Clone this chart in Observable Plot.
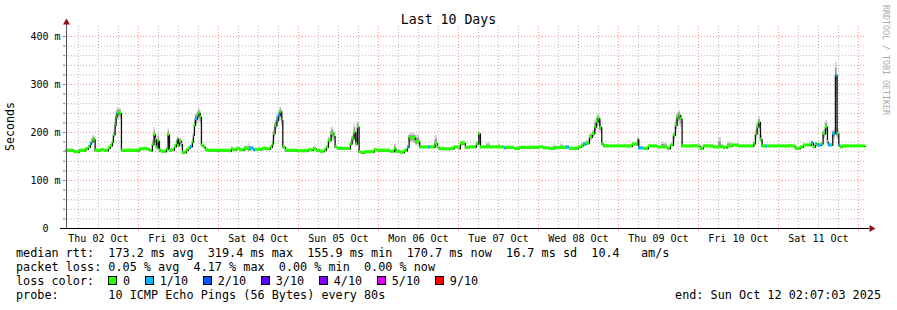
<!DOCTYPE html>
<html><head><meta charset="utf-8">
<script src="https://cdn.jsdelivr.net/npm/d3@7"></script>
<script src="https://cdn.jsdelivr.net/npm/@observablehq/plot@0.6"></script>
<style>
body{margin:0;background:#fff;}
#wrap{position:relative;width:897px;height:310px;font-family:"DejaVu Sans Mono",monospace;color:#000;overflow:hidden;background:#fff;}
#wrap svg{position:absolute;left:0;top:0;}
.t{position:absolute;white-space:pre;line-height:1;}
.sq{display:inline-block;width:7px;height:7px;border:1px solid #000;margin-right:6px;}
.item{margin-right:14.6px;}
</style></head><body><div id="wrap"></div>
<script>
// ---- data (hours since 2025-10-02 00:00 UTC, median rtt ms, smoke range ms, loss in tenths)
const hours = [2.1,4.8,6.3,8.1,9.0,9.6,9.9,10.4,11.0,12.6,13.8,15.0,15.6,16.2,16.5,17.0,17.3,17.6,18.0,18.5,18.9,
24.3,25.5,26.7,27.6,28.2,28.7,29.1,29.4,29.9,30.3,30.9,32.4,32.9,33.3,33.9,34.8,35.4,35.7,36.0,36.3,36.9,37.2,37.8,38.4,39.0,39.6,40.2,40.5,40.8,41.1,41.7,42.0,42.5,42.9,43.5,44.1,45.0,
51.0,51.9,52.5,53.4,54.6,55.8,57.0,57.6,58.5,59.1,61.2,62.4,63.6,64.2,64.5,65.0,65.5,66.0,66.5,67.0,67.3,68.1,
72.0,75.0,76.5,77.4,78.6,79.8,80.4,81.0,81.8,82.5,83.0,83.7,87.6,88.1,88.7,89.2,89.7,90.2,90.9,91.8,94.8,95.7,
99.6,100.8,101.3,102.6,103.8,104.7,105.2,105.6,107.1,108.4,111.0,111.6,113.0,113.7,114.3,117.6,118.8,120.3,120.6,122.1,123.3,125.4,126.1,126.6,128.4,129.0,129.6,131.7,132.6,133.8,134.4,136.8,138.3,
144.0,145.5,147.3,148.5,149.1,150.6,151.5,152.4,153.3,156.0,156.9,157.5,158.4,159.3,160.2,160.9,161.4,161.9,162.4,163.0,163.5,
172.2,173.9,174.1,175.5,177.0,179.7,180.9,181.8,182.7,183.6,184.5,185.1,185.6,186.1,186.6,187.1,192.6,193.5,196.5,198.0,198.9,199.5,200.7,202.2,204.0,208.6,209.1,209.6,210.1,210.6,211.1,212.1,212.7,
221.1,222.6,223.5,225.9,226.5,227.1,227.7,228.9,229.4,230.1,230.7,231.0,231.9,232.3,233.1,233.6,234.1,234.6,235.2,242.1];
const medianMs = [162,159,162,165,169,176,180,185,162,163,162,167,172,180,195,215,232,239,241,239,162,
165,166,164,162,175,195,185,168,182,162,160,165,195,162,163,170,177,186,172,182,175,157,158,163,167,170,180,194,215,228,235,240,232,173,169,163,162,
161,166,163,165,163,166,164,167,163,164,166,165,169,176,197,214,225,235,243,225,169,162,
161,163,166,162,160,163,169,183,197,192,169,166,176,187,200,176,211,159,157,159,163,162,
160,166,160,158,162,169,190,188,180,169,169,169,176,169,165,166,169,166,177,168,169,176,197,169,169,169,169,169,169,167,168,166,168,
169,167,166,166,168,168,168,169,166,169,172,175,177,190,197,211,222,229,210,176,171,
175,185,167,166,171,169,169,169,166,173,194,215,232,235,228,171,166,171,169,169,171,168,171,173,171,176,197,211,221,185,171,171,171,
166,169,173,178,169,176,173,176,197,211,180,173,173,197,319,197,173,169,171,171];
const smokeLo = [161,158,161,163,166,172,175,178,161,162,161,165,169,176,188,205,220,225,228,226,161,
164,164,163,161,168,180,172,165,170,160,159,163,180,161,162,167,172,178,168,175,168,156,157,161,165,167,175,186,200,212,218,222,215,170,167,162,161,
160,164,162,163,162,164,162,165,162,163,164,164,167,172,185,200,210,220,225,212,167,161,
160,162,164,161,159,162,167,176,185,182,167,165,172,178,185,170,195,158,156,158,162,161,
159,163,159,157,161,166,180,178,172,168,168,168,170,168,164,165,168,165,172,167,168,172,180,168,168,168,168,168,168,166,167,165,167,
168,166,165,165,167,167,167,168,165,168,170,172,174,182,188,198,205,212,198,173,170,
173,176,166,165,170,168,168,166,165,170,182,200,212,215,210,170,165,170,168,168,170,167,170,172,170,173,185,195,205,178,170,170,170,
165,168,172,175,168,174,171,174,185,195,175,172,172,185,240,185,172,168,170,170];
const smokeHi = [164,161,164,168,174,181,188,195,164,165,164,170,176,186,204,228,246,252,253,250,164,
167,168,166,164,185,210,200,174,200,165,162,168,208,165,166,175,185,192,178,188,182,160,161,166,170,174,186,200,228,240,246,250,245,177,172,165,164,
163,169,165,170,165,172,176,170,166,166,168,167,172,182,205,225,238,246,253,238,172,164,
163,165,168,164,162,165,172,190,211,205,172,168,182,195,218,195,223,162,159,161,165,164,
162,176,162,160,164,172,197,198,195,171,171,171,194,171,167,168,171,168,182,170,171,180,200,171,178,178,171,175,171,169,170,168,170,
171,169,168,174,170,176,170,171,168,171,178,180,183,197,204,225,235,239,225,180,173,
177,192,169,168,173,171,180,178,168,176,200,226,242,246,240,173,168,173,171,190,173,170,180,175,173,180,205,222,232,200,173,173,173,
168,171,175,181,171,179,176,180,205,225,190,176,176,205,346,210,176,171,173,173];
const lossTenths = [0,0,0,0,0,1,0,0,0,0,0,0,0,0,0,0,0,1,0,0,0,
0,0,0,0,0,0,0,0,0,0,0,0,0,0,0,0,0,0,0,0,0,0,0,0,0,1,0,1,0,1,0,0,0,0,0,0,0,
0,0,0,0,0,0,0,1,1,0,0,0,0,0,0,0,1,1,0,0,0,0,
0,0,0,0,0,0,0,0,0,0,0,0,0,0,0,0,0,0,0,0,0,0,
0,0,0,0,0,1,0,0,0,0,1,0,0,0,0,0,0,0,0,0,0,0,0,0,0,0,0,0,0,1,0,0,0,
0,0,0,0,0,0,0,1,0,0,0,1,0,0,0,0,0,0,0,0,0,
0,0,1,0,0,0,0,0,0,0,0,0,0,0,0,0,0,0,0,0,0,0,0,0,0,0,0,0,0,0,0,1,0,
0,0,0,1,0,0,1,0,0,0,0,1,0,1,1,0,1,0,0,0];
const dayLabels = ["Thu 02 Oct","Fri 03 Oct","Sat 04 Oct","Sun 05 Oct","Mon 06 Oct","Tue 07 Oct","Wed 08 Oct","Thu 09 Oct","Fri 10 Oct","Sat 11 Oct"];
const yTickValues = [0,100,200,300,400];
const lossLabels = ["0","1/10","2/10","3/10","4/10","5/10","9/10"];
const lossColors = ["#26ff00","#00b8ff","#0059ff","#5e00ff","#7e00ff","#dd00ff","#ff0000"];
const titleText = "Last 10 Days";
const statLines = [
 "median rtt:  173.2 ms avg  319.4 ms max  155.9 ms min  170.7 ms now  16.7 ms sd  10.4   am/s",
 "packet loss: 0.05 % avg  4.17 % max  0.00 % min  0.00 % now"
];
const probeText = "probe:       10 ICMP Echo Pings (56 Bytes) every 80s";
const endText = "end: Sun Oct 12 02:07:03 2025";

// ---- build
const end = new Date(Date.UTC(2025,9,12,2,7,3));
const start = new Date(+end - 10*864e5);
const base = Date.UTC(2025,9,2);
const toDate = h => new Date(base + h*36e5);
const pts = hours.map((h,i)=>({t:toDate(h), m:medianMs[i], lo:smokeLo[i], hi:smokeHi[i], loss:lossTenths[i]}));
const segs = pts.slice(0,-1).map((p,i)=>({...p, t2:pts[i+1].t}));
const yTop = 420.8;
const midnights = d3.utcDay.range(start, end);
const sixH = d3.utcHour.every(6).range(start, end).filter(d => d.getUTCHours() !== 0);
const noons = midnights.map(d => new Date(+d - 12*36e5)).concat([]);
noons.push(new Date(+midnights[midnights.length-1] + 12*36e5));
const noonList = noons.filter(d => d >= start && d <= end);
const minorY = d3.range(20, 420, 20).filter(v => v % 100 !== 0);
const majorY = yTickValues.filter(v => v > 0);

const chart = Plot.plot({
  width: 897, height: 245,
  marginLeft: 65, marginRight: 32, marginTop: 26, marginBottom: 17,
  x: {type: "utc", domain: [start, end]},
  y: {domain: [0, yTop]},
  style: {fontFamily: "DejaVu Sans Mono, monospace", fontSize: "10px", color: "#000", background: "transparent"},
  marks: [
    Plot.ruleY(minorY, {stroke: "#b8b8b8", strokeDasharray: "1,2"}),
    Plot.ruleX(sixH, {stroke: "#b8b8b8", strokeDasharray: "1,2"}),
    Plot.ruleY(majorY, {stroke: "#ff0000", strokeOpacity: 0.45, strokeDasharray: "1,2"}),
    Plot.ruleX(midnights, {stroke: "#ff0000", strokeOpacity: 0.45, strokeDasharray: "1,2"}),
    Plot.rect(segs, {x1: "t", x2: "t2", y1: "lo", y2: "hi", fill: "#d4d4d4"}),
    Plot.rect(segs, {x1: "t", x2: "t2", y1: d => d.m - (d.m - d.lo) * 0.55, y2: d => d.m + (d.hi - d.m) * 0.55, fill: "#9a9a9a"}),
    Plot.line(pts, {x: "t", y: "m", curve: "step-after", stroke: "#111", strokeWidth: 1.3}),
    Plot.rect(segs, {x1: "t", x2: "t2", y1: d => d.m - 3.3, y2: d => d.m + 3.3, fill: d => lossColors[d.loss]}),
    Plot.axisY({ticks: d3.range(0, 401, 20), tickSize: 2, tickFormat: () => "", stroke: "#888", label: null}),
    Plot.axisX({ticks: midnights, tickSize: 2, tickFormat: () => "", stroke: "#ff5050", label: null}),
    Plot.axisX({ticks: noonList, tickSize: 0, tickPadding: 6, label: null,
      tickFormat: d => dayLabels[noonList.findIndex(n => +n === +d)]}),
    Plot.axisY({ticks: yTickValues, tickSize: 0, tickPadding: 5, label: null,
      tickFormat: v => v === 0 ? "0\u00a0\u00a0" : v + " m"}),
    Plot.ruleX([start], {stroke: "#555", dx: 1, insetTop: -4}),
    Plot.ruleY([0], {stroke: "#000", insetLeft: -5, insetRight: -4}),
    Plot.dot([start], {x: d => d, y: () => yTop, dx: 1, dy: -4, symbol: "triangle", r: 2.6, fill: "#8b1010", stroke: "none"}),
    Plot.dot([end], {x: d => d, y: () => 0, dx: 6, symbol: "triangle", rotate: 90, r: 2.6, fill: "#8b1010", stroke: "none"})
  ]
});

const wrap = document.getElementById("wrap");
wrap.appendChild(chart);

function addText(txt, css) {
  const el = document.createElement("div");
  el.className = "t";
  el.textContent = txt;
  Object.assign(el.style, css);
  wrap.appendChild(el);
  return el;
}
addText(titleText, {left: "0", width: "897px", textAlign: "center", top: "12.8px", fontSize: "13.2px"});
addText("Seconds", {left: "5px", top: "102px", fontSize: "11.6px", writingMode: "vertical-rl", transform: "rotate(180deg)"});
addText("RRDTOOL / TOBI OETIKER", {left: "882px", top: "5px", fontSize: "8.3px", color: "#aaa", writingMode: "vertical-rl"});
statLines.forEach((s, i) => addText(s, {left: "16px", top: (248.3 + 14 * i) + "px", fontSize: "11.8px"}));
addText("loss color:", {left: "16px", top: "276.3px", fontSize: "11.8px"});
const leg = addText("", {left: "108px", top: "276.3px", fontSize: "11.8px"});
lossLabels.forEach((lab, i) => {
  const it = document.createElement("span");
  it.className = "item";
  const sq = document.createElement("span");
  sq.className = "sq";
  sq.style.background = lossColors[i];
  it.appendChild(sq);
  it.appendChild(document.createTextNode(lab));
  leg.appendChild(it);
});
addText(probeText, {left: "16px", top: "290.3px", fontSize: "11.8px"});
addText(endText, {right: "16px", top: "290.3px", fontSize: "11.8px"});
</script></body></html>
